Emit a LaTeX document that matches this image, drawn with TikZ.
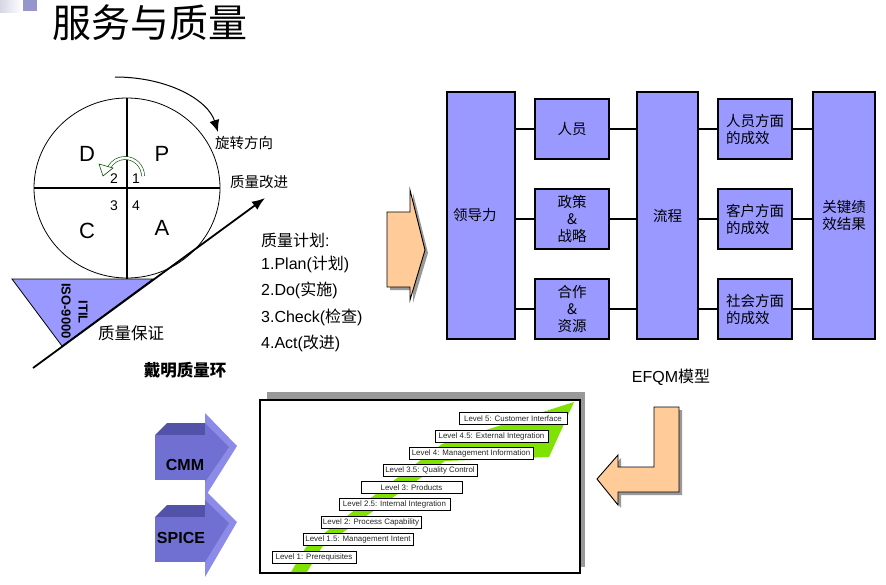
\documentclass[tikz,border=0pt]{standalone}
\usepackage{fontspec}
\setmainfont{Liberation Sans}
\newfontfamily\cjk{Noto Sans CJK SC}
\usetikzlibrary{arrows.meta,positioning}
\definecolor{efqmblue}{RGB}{153,153,255}
\definecolor{peach}{RGB}{255,204,153}
\definecolor{stairgreen}{RGB}{128,226,0}
\definecolor{cmmfront}{RGB}{112,112,210}
\definecolor{cmmtop}{RGB}{82,82,168}
\definecolor{cmmhead}{RGB}{140,140,232}
\definecolor{decogray}{RGB}{214,214,230}
\definecolor{decoblue}{RGB}{150,150,205}

\begin{document}
\begin{tikzpicture}[x=1pt,y=-1pt]
        \tikzstyle{every node}+=[inner sep=0pt]
        \tikzstyle{bigbox}=[draw,line width=1.3pt,fill=efqmblue,minimum height=247pt,font=\cjk\fontsize{14.5}{17}\selectfont]
        \tikzstyle{smallbox}=[draw,line width=1.3pt,fill=efqmblue,minimum width=74pt,minimum height=60pt,font=\cjk\fontsize{14.5}{17}\selectfont]
        \tikzstyle{conn}=[line width=1.2pt]
        \tikzstyle{lvl}=[draw,line width=1pt,fill=white,minimum height=12pt,text=black!85,font=\fontsize{7.9}{8}\selectfont]
        \tikzstyle{zh}=[font=\cjk\fontsize{14.5}{17}\selectfont]
        \tikzstyle{plan}=[anchor=west,font=\fontsize{16}{18}\selectfont]
        \useasboundingbox (0,0) rectangle (886,584);
        \shade[left color=decogray,right color=white] (0,0) rectangle (22,12);
        \fill[decoblue] (23,0) rectangle (37,11);
        \node (title) at (150,23) {\cjk\fontsize{39}{42}\selectfont 服务与质量};
        % Deming cycle
        \filldraw[fill=efqmblue,line width=0.8pt] (12,279) -- (153,279) -- (62,346) -- cycle;
        \node[rotate=-90,font=\bfseries\fontsize{13}{14}\selectfont] (iso) at (66,311) {ISO-9000};
        \node[rotate=-90,font=\bfseries\fontsize{13}{14}\selectfont] (itil) at (83,312) {ITIL};
        \draw[line width=0.8pt] (127,188) ellipse [x radius=93, y radius=90];
        \draw[line width=1.3pt] (127,98) -- (127,279);
        \draw[line width=1.1pt] (34,188) -- (220,188);
        \node[font=\fontsize{22}{24}\selectfont] (dd) at (87,154) {D};
        \node[font=\fontsize{22}{24}\selectfont] (pp) at (162,154) {P};
        \node[font=\fontsize{22}{24}\selectfont] (cc) at (87,231) {C};
        \node[font=\fontsize{22}{24}\selectfont] (aa) at (162,228) {A};
        \node[font=\fontsize{14}{15}\selectfont] (n2) at (114,179) {2};
        \node[font=\fontsize{14}{15}\selectfont] (n1) at (136,179) {1};
        \node[font=\fontsize{14}{15}\selectfont] (n3) at (114,206) {3};
        \node[font=\fontsize{14}{15}\selectfont] (n4) at (136,206) {4};
        \draw[draw=black!70!green,line width=0.6pt,double=white,double distance=2.4pt] (143,176) arc (0:-150:18);
        \filldraw[draw=black!70!green,fill=white,line width=0.6pt] (99,164) -- (103,176) -- (113,168) -- cycle;
        \coordinate (rot0) at (115,77);
        \coordinate (rot1) at (218,132);
        \draw[line width=1pt,-{Latex[length=12pt,width=10pt]}] (rot0) .. controls (168,77) and (208,100) .. (rot1);
        \node[zh] (rotdir) at (244,143) {旋转方向};
        \node[zh] (improve) at (259,182) {质量改进};
        \coordinate (qa0) at (33,368);
        \coordinate (qa1) at (265,198);
        \draw[line width=1.8pt,-{Latex[length=13pt,width=10pt]}] (qa0) -- (qa1);
        \node[font=\cjk\fontsize{16.5}{18}\selectfont] (assure) at (131,333) {质量保证};
        \node[font=\cjk\bfseries\fontsize{16.5}{18}\selectfont] (deming) at (185,370) {戴明质量环};
        % plan list
        \node[plan] (p0) at (261,240) {{\cjk 质量计划}:};
        \node[plan] (p1) at (261,264) {1.Plan({\cjk 计划})};
        \node[plan] (p2) at (261,290) {2.Do({\cjk 实施})};
        \node[plan] (p3) at (261,317) {3.Check({\cjk 检查})};
        \node[plan] (p4) at (261,343) {4.Act({\cjk 改进})};
        % orange arrow to EFQM
        \fill[black!40] (390,215) -- (413,215) -- (413,193) -- (428,253) -- (413,303) -- (413,290) -- (390,290) -- cycle;
        \filldraw[fill=peach,line width=0.9pt] (387,212) -- (410,212) -- (410,190) -- (425,250) -- (410,300) -- (410,287) -- (387,287) -- cycle;
        % EFQM model
        \node[bigbox,text width=56pt,inner xsep=6pt,align=left] (lead) at (481,215.5) {领导力};
        \node[bigbox,minimum width=61pt] (proc) at (667.5,215.5) {流程};
        \node[bigbox,minimum width=62pt,align=center] (kpi) at (844,215.5) {关键绩\\效结果};
        \node[smallbox,align=center] (ppl) at (572,129) {人员};
        \node[smallbox,align=center] (pol) at (572,219) {政策\\\&\\战略};
        \node[smallbox,align=center] (res) at (572,309) {合作\\\&\\资源};
        \node[smallbox,text width=58pt,inner xsep=8pt,align=left] (rppl) at (755,129) {人员方面\\的成效};
        \node[smallbox,text width=58pt,inner xsep=8pt,align=left] (rcus) at (755,219) {客户方面\\的成效};
        \node[smallbox,text width=58pt,inner xsep=8pt,align=left] (rsoc) at (755,309) {社会方面\\的成效};
        \draw[conn] (lead.east |- ppl.west) -- (ppl.west);
        \draw[conn] (lead.east |- pol.west) -- (pol.west);
        \draw[conn] (lead.east |- res.west) -- (res.west);
        \draw[conn] (ppl.east) -- (proc.west |- ppl.east);
        \draw[conn] (pol.east) -- (proc.west |- pol.east);
        \draw[conn] (res.east) -- (proc.west |- res.east);
        \draw[conn] (proc.east |- rppl.west) -- (rppl.west);
        \draw[conn] (proc.east |- rcus.west) -- (rcus.west);
        \draw[conn] (proc.east |- rsoc.west) -- (rsoc.west);
        \draw[conn] (rppl.east) -- (kpi.west |- rppl.east);
        \draw[conn] (rcus.east) -- (kpi.west |- rcus.east);
        \draw[conn] (rsoc.east) -- (kpi.west |- rsoc.east);
        \node[font=\fontsize{16}{18}\selectfont] (efqm) at (671,377) {EFQM{\cjk 模型}};
        % L-shaped arrow
        \fill[black!40] (657,410) -- (682,410) -- (682,495) -- (621,495) -- (621,508) -- (600,481) -- (621,458) -- (621,470) -- (657,470) -- cycle;
        \filldraw[fill=peach,line width=0.9pt] (654,407) -- (679,407) -- (679,492) -- (618,492) -- (618,505) -- (597,479) -- (618,455) -- (618,467) -- (654,467) -- cycle;
        % maturity staircase
        \fill[black!40] (267,392) rectangle (585,567);
        \draw[fill=white,line width=1.2pt] (260,400) rectangle (580,573);
        \fill[stairgreen] (291,572) -- (306,547) -- (442,444) -- (574,402) -- (549,457) -- (445,461) -- (322,547) -- (307,572) -- cycle;
        \node[lvl,minimum width=84pt] (l1) at (314,557) {Level 1: Prerequisites};
        \node[lvl,minimum width=110pt] (l15) at (358,539) {Level 1.5: Management Intent};
        \node[lvl,minimum width=100pt] (l2) at (371,522) {Level 2: Process Capability};
        \node[lvl,minimum width=111pt] (l25) at (394.5,504) {Level 2.5: Internal Integration};
        \node[lvl,minimum width=101pt] (l3) at (411.5,487.5) {Level 3: Products};
        \node[lvl,minimum width=94pt] (l35) at (430,470.5) {Level 3.5: Quality Control};
        \node[lvl,minimum width=124pt] (l4) at (471,453) {Level 4: Management Information};
        \node[lvl,minimum width=113pt] (l45) at (491.5,436) {Level 4.5: External Integration};
        \node[lvl,minimum width=108pt] (l5) at (513,418.5) {Level 5: Customer Interface};
        % CMM and SPICE arrows
        \fill[cmmtop] (155,435) -- (167,423) -- (205,423) -- (205,435) -- cycle;
        \fill[cmmfront] (155,435) rectangle (205,480);
        \fill[cmmhead] (205,413) -- (237,446) -- (205,497) -- cycle;
        \fill[cmmfront] (205,423) -- (229,447) -- (205,482) -- cycle;
        \fill[cmmtop] (155,517) -- (167,505) -- (205,505) -- (205,517) -- cycle;
        \fill[cmmfront] (155,517) rectangle (205,562);
        \fill[cmmhead] (205,490) -- (237,522) -- (205,577) -- cycle;
        \fill[cmmfront] (205,500) -- (229,523) -- (205,562) -- cycle;
        \node[font=\bfseries\fontsize{16}{18}\selectfont] (cmm) at (185,465) {CMM};
        \node[font=\bfseries\fontsize{16}{18}\selectfont] (spice) at (181,538) {SPICE};
\end{tikzpicture}
\end{document}
